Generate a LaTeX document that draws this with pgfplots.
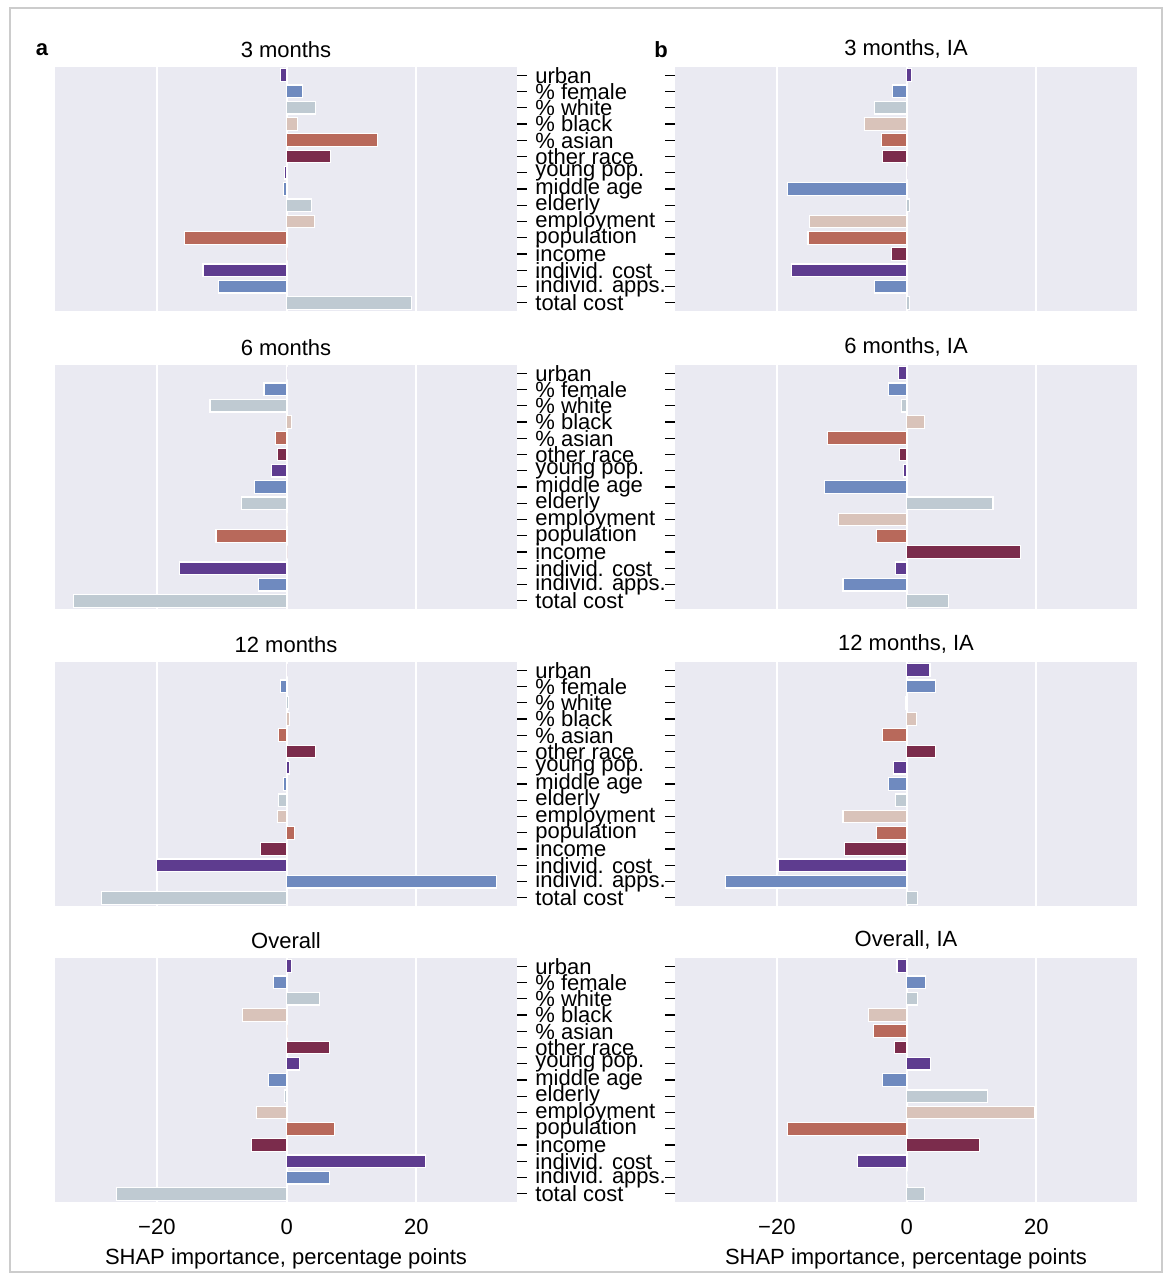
\documentclass[border=0pt]{standalone}
\usepackage{pgfplots}
\pgfplotsset{compat=1.18}
\usepackage{fontspec}
\setmainfont{Liberation Sans}
\definecolor{c1}{HTML}{5E3C8F}
\definecolor{c2}{HTML}{6F8ABF}
\definecolor{c3}{HTML}{BFCAD2}
\definecolor{c4}{HTML}{D9C3BA}
\definecolor{c5}{HTML}{B8695B}
\definecolor{c6}{HTML}{7B2C4C}
\definecolor{bg}{HTML}{EAEAF2}
\newcommand\B[2]{\addplot[fill=#2,draw=white,line width=0.6pt] coordinates {(#1)};}
\pgfplotsset{
 base/.style={scale only axis,width=231pt,height=122pt,anchor=north west,
  xmin=-35.7,xmax=35.5,ymin=-0.5,ymax=14.5,y dir=reverse,
  xbar,bar shift=0pt,bar width=0.78,
  axis background/.style={fill=bg},axis line style={draw=none},
  xtick={-20,0,20},xmajorgrids,grid style={white,line width=1pt},
  x tick style={draw=none},
  ytick={0,...,14},tick align=outside,major tick length=5pt,
  y tick style={black,line width=0.6pt},
  title style={font=\fontsize{11}{12}\selectfont,yshift=-5pt},
  ticklabel style={font=\fontsize{11}{11}\selectfont},
  xticklabels={,,},
  label style={font=\fontsize{11}{12}\selectfont},
 },
 L/.style={base,ytick pos=right,
  yticklabels={urban,\% female,\% white,\% black,\% asian,other race,young pop.,middle age,elderly,employment,population,income,individ. cost,individ. apps.,total cost},
  yticklabel style={anchor=west,inner sep=1pt,xshift=3pt}},
 R/.style={base,ytick pos=left,yticklabels={}},
 bot/.style={xticklabels={−20,0,20},xlabel={SHAP importance, percentage points}},
}
\begin{document}
\begin{tikzpicture}
\path (0,0) rectangle (584pt,-638pt);
\draw[gray!40,line width=0.6pt] (5pt,-4pt) rectangle (581pt,-636pt);
\node[font=\bfseries\fontsize{11}{12}\selectfont] at (21pt,-25pt) {a};
\node[font=\bfseries\fontsize{11}{12}\selectfont] at (330.5pt,-25pt) {b};
% row 1
\begin{axis}[L,at={(27.5pt,-33.5pt)},title={3 months}]
\B{-0.9,0}{c1}\B{2.5,1}{c2}\B{4.5,2}{c3}\B{1.7,3}{c4}\B{14,4}{c5}\B{6.8,5}{c6}
\B{-0.3,6}{c1}\B{-0.5,7}{c2}\B{3.8,8}{c3}\B{4.3,9}{c4}\B{-15.7,10}{c5}\B{0,11}{c6}
\B{-12.9,12}{c1}\B{-10.5,13}{c2}\B{19.2,14}{c3}
\end{axis}
\begin{axis}[R,at={(337.5pt,-33.5pt)},title={3 months, IA}]
\B{0.8,0}{c1}\B{-2.2,1}{c2}\B{-5,2}{c3}\B{-6.5,3}{c4}\B{-3.9,4}{c5}\B{-3.7,5}{c6}
\B{0,6}{c1}\B{-18.4,7}{c2}\B{0.5,8}{c3}\B{-15,9}{c4}\B{-15.2,10}{c5}\B{-2.3,11}{c6}
\B{-17.8,12}{c1}\B{-5,13}{c2}\B{0.5,14}{c3}
\end{axis}
% row 2
\begin{axis}[L,at={(27.5pt,-182.5pt)},title={6 months}]
\B{0,0}{c1}\B{-3.5,1}{c2}\B{-11.8,2}{c3}\B{0.8,3}{c4}\B{-1.7,4}{c5}\B{-1.4,5}{c6}
\B{-2.3,6}{c1}\B{-4.9,7}{c2}\B{-7,8}{c3}\B{0,9}{c4}\B{-10.9,10}{c5}\B{0,11}{c6}
\B{-16.5,12}{c1}\B{-4.3,13}{c2}\B{-32.8,14}{c3}
\end{axis}
\begin{axis}[R,at={(337.5pt,-182.5pt)},title={6 months, IA}]
\B{-1.2,0}{c1}\B{-2.8,1}{c2}\B{-0.8,2}{c3}\B{2.8,3}{c4}\B{-12.2,4}{c5}\B{-1.1,5}{c6}
\B{-0.5,6}{c1}\B{-12.6,7}{c2}\B{13.3,8}{c3}\B{-10.5,9}{c4}\B{-4.6,10}{c5}\B{17.5,11}{c6}
\B{-1.7,12}{c1}\B{-9.8,13}{c2}\B{6.4,14}{c3}
\end{axis}
% row 3
\begin{axis}[L,at={(27.5pt,-331pt)},title={12 months}]
\B{0,0}{c1}\B{-0.9,1}{c2}\B{0.3,2}{c3}\B{0.4,3}{c4}\B{-1.2,4}{c5}\B{4.5,5}{c6}
\B{0.5,6}{c1}\B{-0.5,7}{c2}\B{-1.3,8}{c3}\B{-1.4,9}{c4}\B{1.2,10}{c5}\B{-4,11}{c6}
\B{-20,12}{c1}\B{32.3,13}{c2}\B{-28.5,14}{c3}
\end{axis}
\begin{axis}[R,at={(337.5pt,-331pt)},title={12 months, IA}]
\B{3.6,0}{c1}\B{4.5,1}{c2}\B{-0.2,2}{c3}\B{1.5,3}{c4}\B{-3.7,4}{c5}\B{4.5,5}{c6}
\B{-2,6}{c1}\B{-2.8,7}{c2}\B{-1.7,8}{c3}\B{-9.8,9}{c4}\B{-4.6,10}{c5}\B{-9.6,11}{c6}
\B{-19.8,12}{c1}\B{-27.9,13}{c2}\B{1.7,14}{c3}
\end{axis}
% row 4
\begin{axis}[L,bot,at={(27.5pt,-479pt)},title={Overall}]
\B{0.8,0}{c1}\B{-2,1}{c2}\B{5.1,2}{c3}\B{-6.8,3}{c4}\B{0,4}{c5}\B{6.6,5}{c6}
\B{2,6}{c1}\B{-2.8,7}{c2}\B{-0.3,8}{c3}\B{-4.6,9}{c4}\B{7.4,10}{c5}\B{-5.4,11}{c6}
\B{21.4,12}{c1}\B{6.6,13}{c2}\B{-26.2,14}{c3}
\end{axis}
\begin{axis}[R,bot,at={(337.5pt,-479pt)},title={Overall, IA}]
\B{-1.5,0}{c1}\B{2.9,1}{c2}\B{1.7,2}{c3}\B{-5.9,3}{c4}\B{-5.1,4}{c5}\B{-1.9,5}{c6}
\B{3.7,6}{c1}\B{-3.7,7}{c2}\B{12.4,8}{c3}\B{19.7,9}{c4}\B{-18.4,10}{c5}\B{11.2,11}{c6}
\B{-7.6,12}{c1}\B{0,13}{c2}\B{2.8,14}{c3}
\end{axis}
\end{tikzpicture}
\end{document}
